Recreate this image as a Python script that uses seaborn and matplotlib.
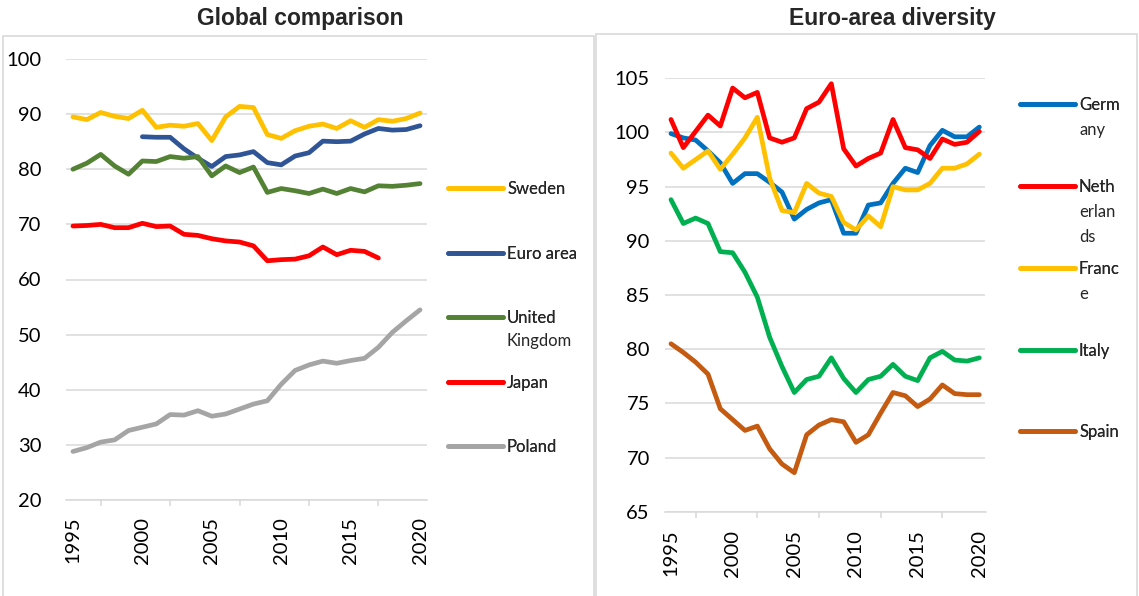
import matplotlib.pyplot as plt
import matplotlib.patches as mpatches
from matplotlib.lines import Line2D
import pandas as pd
import seaborn as sns

# ---- data ----
years = list(range(1995, 2021))
euro_years = list(range(2000, 2021))
japan_years = list(range(1995, 2018))

sweden = [89.5, 89.0, 90.3, 89.6, 89.2, 90.7, 87.6, 88.0, 87.8, 88.3, 85.2, 89.5, 91.4,
          91.2, 86.3, 85.6, 87.0, 87.8, 88.2, 87.4, 88.8, 87.6, 89.0, 88.7, 89.2, 90.2]
euro_area = [85.9, 85.8, 85.8, 83.7, 82.0, 80.5, 82.3, 82.6, 83.2, 81.2, 80.8, 82.4, 83.0,
             85.1, 85.0, 85.1, 86.4, 87.4, 87.1, 87.2, 87.9]
uk = [80.0, 81.1, 82.7, 80.6, 79.1, 81.5, 81.4, 82.3, 82.0, 82.3, 78.8, 80.6, 79.4,
      80.4, 75.8, 76.5, 76.1, 75.6, 76.4, 75.6, 76.5, 75.9, 77.0, 76.9, 77.1, 77.4]
japan = [69.7, 69.8, 70.0, 69.4, 69.4, 70.2, 69.6, 69.7, 68.2, 68.0, 67.4, 67.0, 66.8,
         66.1, 63.4, 63.6, 63.7, 64.3, 65.9, 64.5, 65.3, 65.1, 63.9]
poland = [28.8, 29.5, 30.5, 30.9, 32.6, 33.2, 33.8, 35.5, 35.4, 36.2, 35.2, 35.6, 36.5,
          37.4, 38.0, 41.0, 43.5, 44.5, 45.2, 44.8, 45.3, 45.7, 47.7, 50.4, 52.5, 54.5]

germany = [99.9, 99.5, 99.3, 98.3, 97.2, 95.3, 96.2, 96.2, 95.4, 94.5, 92.0, 92.9, 93.5,
           93.8, 90.7, 90.7, 93.3, 93.5, 95.3, 96.7, 96.3, 98.8, 100.2, 99.6, 99.6, 100.5]
netherlands = [101.2, 98.6, 100.1, 101.6, 100.6, 104.1, 103.2, 103.7, 99.5, 99.1, 99.5, 102.2, 102.8,
               104.5, 98.5, 96.9, 97.6, 98.1, 101.2, 98.6, 98.4, 97.6, 99.4, 98.9, 99.1, 100.1]
france = [98.1, 96.7, 97.5, 98.3, 96.6, 98.0, 99.5, 101.4, 95.8, 92.8, 92.6, 95.3, 94.4,
          94.1, 91.7, 91.0, 92.3, 91.3, 95.0, 94.7, 94.7, 95.3, 96.7, 96.7, 97.1, 98.0]
italy = [93.8, 91.6, 92.1, 91.6, 89.0, 88.9, 87.1, 84.8, 81.1, 78.4, 76.0, 77.2, 77.5,
         79.2, 77.3, 76.0, 77.2, 77.5, 78.6, 77.5, 77.1, 79.2, 79.8, 79.0, 78.9, 79.2]
spain = [80.5, 79.7, 78.8, 77.7, 74.5, 73.5, 72.5, 72.9, 70.8, 69.4, 68.6, 72.1, 73.0,
         73.5, 73.3, 71.4, 72.1, 74.1, 76.0, 75.7, 74.7, 75.4, 76.7, 75.9, 75.8, 75.8]

global_names = ["Sweden", "Euro area", "United Kingdom", "Japan", "Poland"]
global_labels = ["Sweden", "Euro area", "United\nKingdom", "Japan", "Poland"]
global_colors = ["#FFC000", "#2F5597", "#548235", "#FF0000", "#A5A5A5"]

euro_names = ["Germany", "Netherlands", "France", "Italy", "Spain"]
euro_labels = ["Germ\nany", "Neth\nerlan\nds", "Franc\ne", "Italy", "Spain"]
euro_colors = ["#0070C0", "#FF0000", "#FFC000", "#00B050", "#C55A11"]


def long_frame(names, year_lists, value_lists):
    rows = []
    for name, yrs, vals in zip(names, year_lists, value_lists):
        rows += [(name, y, v) for y, v in zip(yrs, vals)]
    return pd.DataFrame(rows, columns=["country", "year", "value"])


df_global = long_frame(global_names, [years, euro_years, years, japan_years, years],
                       [sweden, euro_area, uk, japan, poland])
df_euro = long_frame(euro_names, [years] * 5, [germany, netherlands, france, italy, spain])

# ---- style ----
sns.set_style("white")
plt.rcParams["font.family"] = ["Lato", "DejaVu Sans"]

W, H = 1139, 596
GRID = "#D9D9D9"
LW = 3.4

fig = plt.figure(figsize=(W / 100, H / 100), dpi=100)
fig.patch.set_facecolor("white")

# chart frames
fig.patches.append(mpatches.Rectangle((3 / W, -0.1), 591 / W, (H - 36) / H + 0.1,
                                      transform=fig.transFigure, fill=False,
                                      edgecolor=GRID, linewidth=1.2))
fig.patches.append(mpatches.Rectangle((596 / W, -0.1), 541 / W, (H - 34) / H + 0.1,
                                      transform=fig.transFigure, fill=False,
                                      edgecolor=GRID, linewidth=1.2))

ax1 = fig.add_axes([66 / W, (H - 500) / H, 361 / W, 441 / H])
ax2 = fig.add_axes([664.8 / W, (H - 511.7) / H, 320.7 / W, 433.4 / H])


def draw_panel(ax, df, names, colors, ylim, ystep, ypad, xpad):
    sns.lineplot(data=df, x="year", y="value", hue="country", hue_order=names,
                 palette=dict(zip(names, colors)), linewidth=LW, legend=False, ax=ax,
                 sort=True, estimator=None)
    for line in ax.get_lines():
        line.set_solid_joinstyle("round")
        line.set_solid_capstyle("round")
    ax.set_xlim(1994.5, 2020.5)
    ax.set_ylim(*ylim)
    ax.set_yticks(range(ylim[0], ylim[1] + 1, ystep))
    ax.set_xticks(range(1995, 2021, 5))
    ax.set_xticks([y - 0.5 for y in range(1995, 2021, 5)], minor=True)
    ax.grid(axis="y", color=GRID, linewidth=1.1)
    ax.set_axisbelow(True)
    for s in ["top", "left", "right"]:
        ax.spines[s].set_visible(False)
    ax.spines["bottom"].set_color(GRID)
    ax.spines["bottom"].set_linewidth(1.1)
    ax.tick_params(axis="y", length=0, pad=ypad, labelsize=14.5, labelcolor="black")
    ax.tick_params(axis="x", which="major", length=0, pad=xpad, labelsize=14.5,
                   labelrotation=90, labelcolor="black")
    ax.tick_params(axis="x", which="minor", direction="inout", length=10.5,
                   width=1.1, color=GRID)
    sec = ax.secondary_xaxis("bottom")
    sec.set_xticks(range(1997, 2020, 5))
    sec.tick_params(length=4.2, width=1.1, color=GRID, labelbottom=False)
    sec.spines["bottom"].set_visible(False)
    ax.set_xlabel("")
    ax.set_ylabel("")


draw_panel(ax1, df_global, global_names, global_colors, (20, 100), 10, 17.5, 12.0)
draw_panel(ax2, df_euro, euro_names, euro_colors, (65, 105), 5, 10.8, 13.0)

fig.text(300 / W, 1 - 18 / H, "Global comparison", ha="center", va="center",
         fontsize=16.5, fontweight="bold", family="Liberation Sans")
fig.text(892 / W, 1 - 18 / H, "Euro-area diversity", ha="center", va="center",
         fontsize=16.5, fontweight="bold", family="Liberation Sans")


# legends: one entry each, wrapped labels continue below the first line
def draw_legend(labels, colors, x0, ys, line_gap):
    fs = 12
    fs_px = fs * 100 / 72
    for lab, col, y in zip(labels, colors, ys):
        parts = lab.split("\n")
        h = Line2D([], [], color=col, linewidth=LW, solid_capstyle="round")
        leg = fig.legend(handles=[h], labels=[parts[0]], loc="center left",
                         bbox_to_anchor=(x0 / W, 1 - y / H), frameon=False,
                         borderpad=0, borderaxespad=0, fontsize=fs,
                         handlelength=55 / fs_px, handletextpad=4 / fs_px)
        fig.add_artist(leg)
        for k, extra in enumerate(parts[1:], start=1):
            fig.text((x0 + 59) / W, 1 - (y + k * line_gap) / H, extra,
                     ha="left", va="center", fontsize=fs)


draw_legend(global_labels, global_colors, 448, [189, 254, 318, 383, 447], 23)
draw_legend(euro_labels, euro_colors, 1020, [105, 187, 269, 351, 432], 25)

fig.savefig("out.png", dpi=100, facecolor="white")
